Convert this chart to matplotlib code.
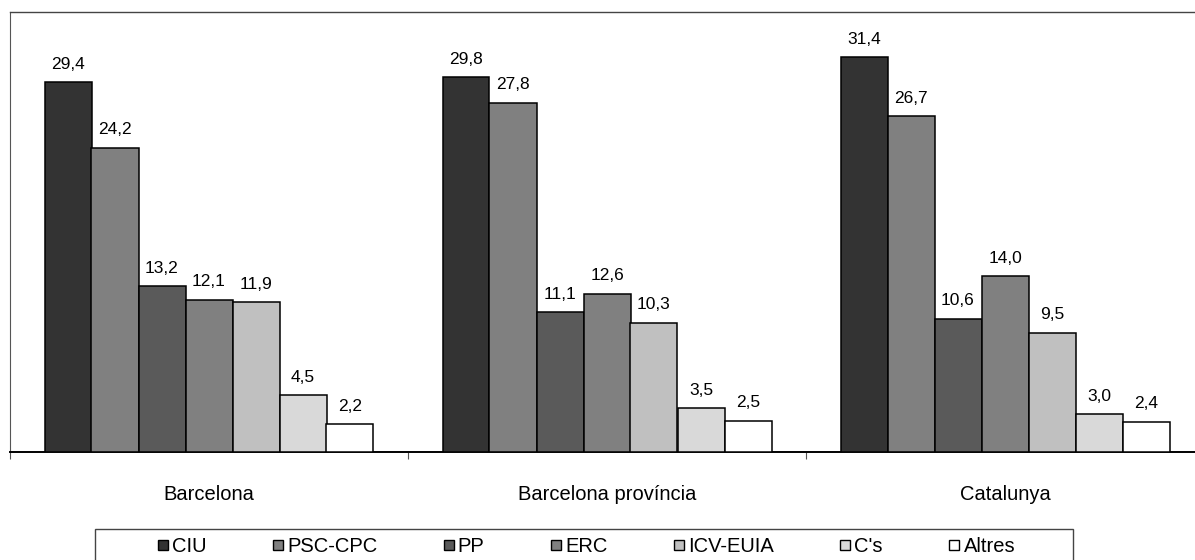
import matplotlib
matplotlib.use("Agg")
import matplotlib.pyplot as plt
import matplotlib.patches as mpatches
from matplotlib.lines import Line2D
import numpy as np

plt.rcParams['font.family'] = ['Liberation Sans', 'DejaVu Sans']

# --- data ---
regions = ['Barcelona', 'Barcelona província', 'Catalunya']
parties = ['CIU', 'PSC-CPC', 'PP', 'ERC', 'ICV-EUIA', "C's", 'Altres']
ciu = [29.4, 29.8, 31.4]
psc = [24.2, 27.8, 26.7]
pp = [13.2, 11.1, 10.6]
erc = [12.1, 12.6, 14.0]
icv = [11.9, 10.3, 9.5]
cs = [4.5, 3.5, 3.0]
altres = [2.2, 2.5, 2.4]
series = [ciu, psc, pp, erc, icv, cs, altres]

colors = ['#333333', '#808080', '#5a5a5a', '#808080', '#c0c0c0', '#d9d9d9', '#ffffff']

fig = plt.figure(figsize=(11.95, 5.6), dpi=100)
ax = fig.add_axes([10 / 1195, 108 / 560, 1194 / 1195, 440 / 560])

centers = np.arange(len(regions)) + 0.5
bw = 47 / 398
for i, vals in enumerate(series):
    xs = centers + (i - 3) * bw
    bars = ax.bar(xs, vals, width=bw, color=colors[i], edgecolor='black', linewidth=1.1, zorder=3)
    for b, v in zip(bars, vals):
        ax.annotate(f'{v:.1f}'.replace('.', ','), (b.get_x() + b.get_width() / 2, v),
                    xytext=(0, 7.5), textcoords='offset points', ha='center', va='bottom',
                    fontsize=12.5)

ax.set_xlim(0, 3)
ax.set_ylim(0, 35)
ax.set_yticks([])
ax.set_xticks([0, 1, 2, 3])
ax.set_xticklabels([])
ax.tick_params(axis='x', which='major', length=5, width=0.8, color='#555555', direction='out')
ax.set_xticks(centers, minor=True)
ax.set_xticklabels(regions, minor=True, fontsize=14.5)
ax.tick_params(axis='x', which='minor', length=0, pad=24)

ax.spines['right'].set_visible(False)
ax.spines['left'].set_color('#555555')
ax.spines['left'].set_linewidth(0.8)
ax.spines['top'].set_color('#444444')
ax.spines['top'].set_linewidth(1.0)
ax.spines['bottom'].set_color('black')
ax.spines['bottom'].set_linewidth(1.4)

# legend frame (cut off at bottom like in the original)
frame = mpatches.Rectangle((95 / 1195, -0.05), 978 / 1195, 0.05 + (1 - 529 / 560),
                           transform=fig.transFigure, fill=False, edgecolor='#444444',
                           linewidth=1.0)
fig.add_artist(frame)

handles = [Line2D([], [], linestyle='none', marker='s', markersize=6.5,
                  markerfacecolor=c, markeredgecolor='black', markeredgewidth=1.0)
           for c in colors]
fig.legend(handles, parties, loc='center', bbox_to_anchor=(586 / 1195, 1 - 547 / 560),
           ncol=7, frameon=False, fontsize=14.5, handlelength=0.6, handletextpad=0.15,
           columnspacing=3.25, borderpad=0, borderaxespad=0)

fig.savefig('out.png', dpi=100)
